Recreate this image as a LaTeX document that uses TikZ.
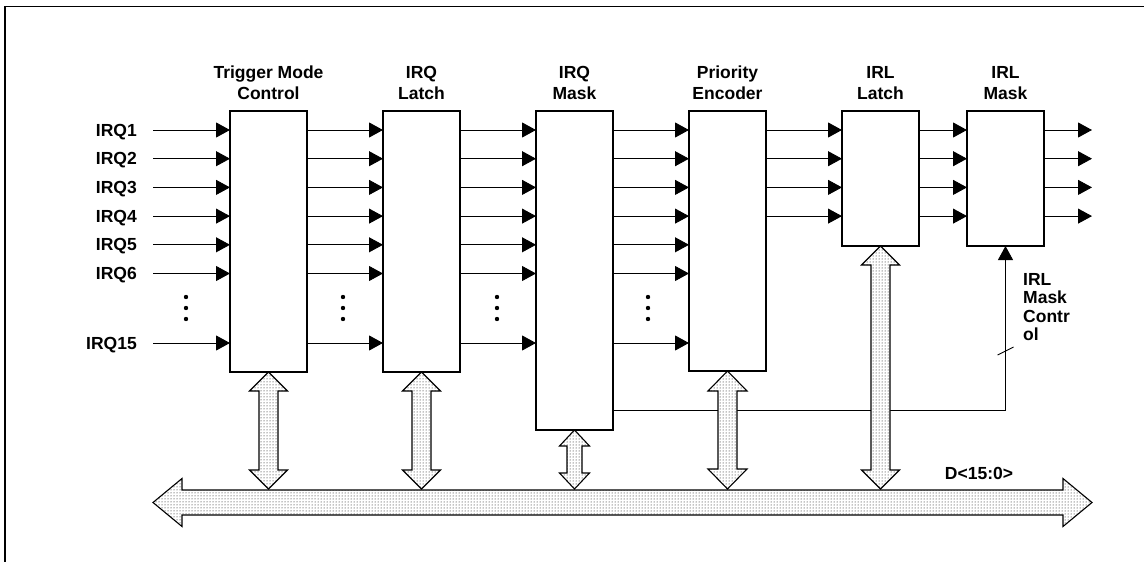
\documentclass[tikz,border=0pt]{standalone}
\usepackage{fontspec}
\setmainfont{Liberation Sans}
\usetikzlibrary{arrows.meta, positioning, patterns}

% double-headed bus branch: top tip, bottom tip, half shaft, half head, head length
\newcommand{\bidir}[5]{%
  \draw[bus] (#1) -- ++(#4,#5) -- ++({#3-#4},0) -- ([shift={(#3,-#5)}]#2)
    -- ++({#4-#3},0) -- (#2) -- ++(-#4,-#5) -- ++({#4-#3},0)
    -- ([shift={(-#3,#5)}]#1) -- ++({#3-#4},0) -- cycle;}

\begin{document}
\begin{tikzpicture}[x=1pt, y=-1pt,
  every node/.style={font=\fontsize{17.5}{21}\selectfont\bfseries},
  blk/.style={draw, line width=1.1pt, minimum width=77pt, inner sep=0pt, outer sep=0pt},
  title/.style={align=center, inner sep=0pt},
  lbl/.style={anchor=east, inner sep=0pt, text height=12pt, text depth=0pt},
  sig/.style={line width=0.9pt, -{Triangle[length=14pt, width=15pt]}},
  bus/.style={draw, line width=1.1pt, preaction={fill=white}, pattern=dots}
]
\useasboundingbox (0,0) rectangle (1144,562);
\draw[line width=1.6pt] (5,562) -- (5,6.5) -- (1144,6.5);

% blocks
\node[blk, minimum height=261pt, anchor=north west] (tmc) at (230,111) {};
\node[blk, minimum height=261pt, right=76pt of tmc.north east, anchor=north west] (rql) {};
\node[blk, minimum height=319pt, right=76pt of rql.north east, anchor=north west] (rqm) {};
\node[blk, minimum height=260pt, right=76pt of rqm.north east, anchor=north west] (enc) {};
\node[blk, minimum height=135pt, right=76pt of enc.north east, anchor=north west] (rll) {};
\node[blk, minimum height=135pt, right=48pt of rll.north east, anchor=north west] (rlm) {};

\node[title, above=11pt of tmc] (t-tmc) {Trigger Mode\\Control};
\node[title, above=11pt of rql] (t-rql) {IRQ\\Latch};
\node[title, above=11pt of rqm] (t-rqm) {IRQ\\Mask};
\node[title, above=11pt of enc] (t-enc) {Priority\\Encoder};
\node[title, above=11pt of rll] (t-rll) {IRL\\Latch};
\node[title, above=11pt of rlm] (t-rlm) {IRL\\Mask};

% request lines
\foreach \i/\r in {1/130, 2/158.7, 3/187.4, 4/216.1, 5/244.8, 6/273.5, 15/343} {
  \node[lbl] (in\i) at (137,\r) {IRQ\i};
  \draw[sig] ([xshift=16pt]in\i.east) -- (in\i -| tmc.west);
  \draw[sig] (in\i -| tmc.east) -- (in\i -| rql.west);
  \draw[sig] (in\i -| rql.east) -- (in\i -| rqm.west);
  \draw[sig] (in\i -| rqm.east) -- (in\i -| enc.west);
}
\foreach \i in {1,...,4} {
  \draw[sig] (in\i -| enc.east) -- (in\i -| rll.west);
  \draw[sig] (in\i -| rll.east) -- (in\i -| rlm.west);
  \draw[sig] (in\i -| rlm.east) -- ++(48,0);
}
\foreach \x in {186,343,497,648}
  \foreach \y in {297,308,319}
    \fill (\x,\y) circle (2.2pt);

% mask control
\draw[sig] ([yshift=20pt]rqm.south east) -| (rlm.south);
\coordinate (mc) at (rlm.south |- 0,351);
\draw[line width=0.9pt] ([shift={(-8,4)}]mc) -- ([shift={(8,-4)}]mc);
\node[align=left, inner sep=0pt, anchor=north west,
  font=\fontsize{17.5}{18.5}\selectfont\bfseries] (mclab) at (1023,273)
  {IRL\\Mask\\Contr\\ol};

% data bus
\coordinate (busL) at (153,502.5);
\coordinate (busR) at (1092,502.5);
\coordinate (bustop) at (0,489);
\bidir{tmc.south}{tmc.south |- bustop}{9.5}{19}{19}
\bidir{rql.south}{rql.south |- bustop}{9.5}{19}{19}
\bidir{rqm.south}{rqm.south |- bustop}{7.5}{15}{16}
\bidir{enc.south}{enc.south |- bustop}{9.5}{19.5}{20}
\bidir{rll.south}{rll.south |- bustop}{9.5}{19}{19}
\draw[bus] (busL) -- ++(29,-24) -- ++(0,11.5) -- ([shift={(-29,-12.5)}]busR)
  -- ++(0,-11.5) -- (busR) -- ++(-29,24) -- ++(0,-11.5)
  -- ([shift={(29,12.5)}]busL) -- ++(0,11.5) -- cycle;
\node[inner sep=0pt, anchor=base] (dlab) at (979,479) {D<15:0>};
\end{tikzpicture}
\end{document}
